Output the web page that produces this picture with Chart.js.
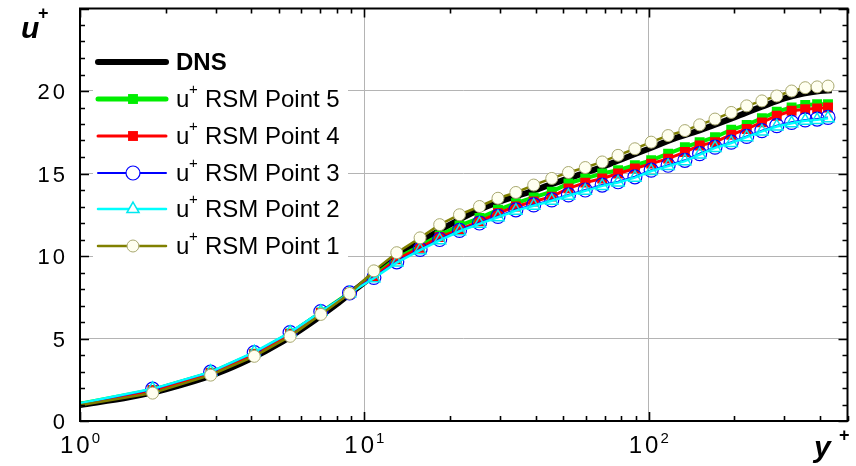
<!DOCTYPE html>
<html>
<head>
<meta charset="utf-8">
<script src="https://cdn.jsdelivr.net/npm/chart.js@4.4.0/dist/chart.umd.min.js"></script>
<style>
  html, body { margin: 0; padding: 0; background: #fff; }
  canvas { display: block; }
</style>
</head>
<body>
<canvas id="c" width="856" height="466"></canvas>
<script>
// ── data ───────────────────────────────────────────────
// RSM grid nodes (first node at y+=1 only starts the line, no marker)
const rsmYPlus = [1.0, 1.80, 2.88, 4.10, 5.48, 7.03, 8.87, 10.8, 13.0, 15.7, 18.4, 21.6, 25.4, 29.5, 34.1,
  39.4, 45.6, 52.2, 59.8, 68.6, 78.0, 89.4, 102, 117, 134, 151, 171, 195, 221, 250, 282, 318, 355, 391, 427];
const uPoint1 = [0.95, 1.69, 2.78, 3.92, 5.13, 6.46, 7.73, 9.1, 10.2, 11.1, 11.9, 12.5, 13.0, 13.5, 13.85,
  14.3, 14.7, 15.06, 15.36, 15.7, 16.1, 16.5, 16.9, 17.3, 17.6, 17.95, 18.3, 18.7, 19.1, 19.4, 19.7, 20.0, 20.2, 20.25, 20.3];
const uPoint2 = [1.08, 1.95, 2.98, 4.17, 5.37, 6.62, 7.74, 8.65, 9.6, 10.35, 10.95, 11.5, 11.95, 12.35, 12.75,
  13.05, 13.35, 13.65, 13.95, 14.25, 14.45, 14.75, 15.15, 15.45, 15.75, 16.15, 16.55, 16.85, 17.2, 17.55, 17.85, 18.05, 18.2, 18.25, 18.35];
const uPoint3 = [1.05, 1.93, 2.96, 4.15, 5.36, 6.63, 7.77, 8.7, 9.65, 10.4, 11.0, 11.55, 12.0, 12.4, 12.8,
  13.1, 13.4, 13.7, 14.0, 14.3, 14.5, 14.8, 15.2, 15.5, 15.8, 16.2, 16.6, 16.9, 17.25, 17.6, 17.9, 18.1, 18.25, 18.3, 18.4];
const uPoint4 = [1.02, 1.86, 2.9, 4.05, 5.27, 6.55, 7.74, 8.75, 9.8, 10.5, 11.15, 11.6, 12.1, 12.6, 13.0,
  13.3, 13.6, 14.1, 14.45, 14.7, 15.0, 15.3, 15.6, 15.9, 16.3, 16.7, 16.9, 17.35, 17.7, 18.1, 18.5, 18.8, 18.9, 18.95, 19.0];
const uPoint5 = [1.04, 1.88, 2.92, 4.08, 5.3, 6.58, 7.76, 8.8, 9.85, 10.6, 11.25, 11.85, 12.3, 12.8, 13.2,
  13.55, 13.9, 14.4, 14.7, 15.0, 15.2, 15.5, 15.8, 16.2, 16.6, 16.9, 17.2, 17.65, 17.95, 18.35, 18.75, 19.0, 19.15, 19.2, 19.2];

const dnsYPlus = [1, 1.5, 2, 3, 4, 5, 6, 7, 8, 9, 10, 12, 14, 17, 20, 25, 30, 40, 50, 60,
  70, 80, 100, 120, 150, 200, 250, 300, 350, 400, 440];
const dnsU = [0.97, 1.45, 1.92, 2.85, 3.78, 4.68, 5.55, 6.35, 7.08, 7.78, 8.4, 9.45, 10.3, 11.2, 11.9, 12.75, 13.3, 14.0, 14.6, 15.05,
  15.45, 15.85, 16.5, 17.05, 17.6, 18.4, 19.05, 19.55, 19.85, 20.0, 20.05];

const xTickValues = [1, 10, 100];
const xTickExps   = ['0', '1', '2'];
const yTickValues = [0, 5, 10, 15, 20];

const FONT = '"Liberation Sans", Arial, sans-serif';

function pts(xs, ys) { return xs.map((x, i) => ({ x, y: ys[i] })); }
const skipFirst = r => ctx => ctx.dataIndex === 0 ? 0 : r;

// index 0 is drawn on top, so Point 1 first, DNS last
const series = [
  { label: 'Point 1', u: uPoint1, color: '#808000', width: 2.5, style: 'circle', r: 6,   fill: '#fffff0', stroke: '#a8a870', bw: 1 },
  { label: 'Point 2', u: uPoint2, color: '#00ffff', width: 2.5, style: 'triangle', r: 7, fill: 'rgba(0,0,0,0)', stroke: '#00e8f0', bw: 1.5 },
  { label: 'Point 3', u: uPoint3, color: '#0000ff', width: 2,   style: 'circle', r: 7,   fill: 'rgba(0,0,0,0)', stroke: '#0000ff', bw: 1.2 },
  { label: 'Point 4', u: uPoint4, color: '#ff0000', width: 3,   style: 'rect', r: 7,     fill: '#ff0000', stroke: '#ff0000', bw: 0 },
  { label: 'Point 5', u: uPoint5, color: '#00ee00', width: 4,   style: 'rect', r: 7,     fill: '#00ee00', stroke: '#00ee00', bw: 0 },
];

const datasets = series.map(s => ({
  label: 'u+ RSM ' + s.label,
  data: pts(rsmYPlus, s.u),
  showLine: true,
  borderColor: s.color,
  borderWidth: s.width,
  pointStyle: s.style,
  pointRadius: skipFirst(s.r),
  pointBackgroundColor: s.fill,
  pointBorderColor: s.stroke,
  pointBorderWidth: s.bw,
}));
datasets.push({
  label: 'DNS',
  data: pts(dnsYPlus, dnsU),
  showLine: true,
  borderColor: '#000',
  borderWidth: 6,
  pointRadius: 0,
  cubicInterpolationMode: 'monotone',
});

// text with extra spacing between glyphs (the plot uses wide digits)
function spacedWidth(ctx, txt, sp) {
  let w = 0;
  for (const ch of txt) w += ctx.measureText(ch).width + sp;
  return w - sp;
}
function drawSpaced(ctx, txt, x, y, sp) {
  for (const ch of txt) { ctx.fillText(ch, x, y); x += ctx.measureText(ch).width + sp; }
}

const framePlugin = {
  id: 'frame',
  afterDraw(chart) {
    const { ctx, chartArea: a, scales: { x, y } } = chart;
    ctx.save();

    // legend panel
    ctx.fillStyle = '#fff';
    ctx.fillRect(93, 44, 255, 220);
    const legendRows = [
      { label: 'DNS', bold: true, color: '#000', width: 6 },
      { s: series[4] }, { s: series[3] }, { s: series[2] }, { s: series[1] }, { s: series[0] },
    ];
    const rowY = [62, 99, 136, 173, 209, 246];
    legendRows.forEach((row, i) => {
      const ry = rowY[i];
      const s = row.s;
      ctx.lineCap = 'round';
      ctx.strokeStyle = s ? s.color : row.color;
      ctx.lineWidth = s ? (s.width === 4 ? 5 : s.width) : row.width;
      ctx.beginPath(); ctx.moveTo(98, ry); ctx.lineTo(166, ry); ctx.stroke();
      if (s) {
        ctx.fillStyle = s.fill.startsWith('rgba') ? '#fff' : s.fill;
        ctx.strokeStyle = s.stroke;
        ctx.lineWidth = s.bw;
        Chart.helpers.drawPoint(ctx, { pointStyle: s.style, radius: s.r, rotation: 0, borderWidth: s.bw }, 133, ry);
      }
      ctx.fillStyle = '#000';
      ctx.textBaseline = 'alphabetic';
      ctx.textAlign = 'left';
      if (row.bold) {
        ctx.font = `bold 24px ${FONT}`;
        ctx.fillText(row.label, 176, ry + 8);
      } else {
        ctx.font = `24px ${FONT}`;
        ctx.fillText('u', 176, ry + 8);
        ctx.font = `15px ${FONT}`;
        ctx.fillText('+', 189, ry - 5);
        ctx.font = `24px ${FONT}`;
        ctx.fillText('RSM ' + s.label, 205, ry + 8);
      }
    });

    // frame
    ctx.strokeStyle = '#000';
    ctx.lineWidth = 2;
    ctx.lineCap = 'butt';
    ctx.strokeRect(a.left, a.top, a.right - a.left, a.bottom - a.top);

    // inward ticks
    ctx.lineWidth = 1.6;
    ctx.beginPath();
    for (let v = 0; v <= 25; v++) {
      const py = Math.round(y.getPixelForValue(v)) + 0.5;
      const len = v % 5 === 0 ? 9 : 5;
      ctx.moveTo(a.left, py); ctx.lineTo(a.left + len, py);
      ctx.moveTo(a.right, py); ctx.lineTo(a.right - len, py);
    }
    for (let k = 0; k < 3; k++) {
      for (let m = 1; m <= 9; m++) {
        const v = m * Math.pow(10, k);
        if (v > 500) break;
        const px = Math.round(x.getPixelForValue(v)) + 0.5;
        const len = m === 1 ? 9 : 5;
        ctx.moveTo(px, a.bottom); ctx.lineTo(px, a.bottom - len);
        ctx.moveTo(px, a.top); ctx.lineTo(px, a.top + len);
      }
    }
    ctx.stroke();

    // y tick labels
    ctx.fillStyle = '#000';
    ctx.textAlign = 'left';
    ctx.textBaseline = 'alphabetic';
    ctx.font = `22px ${FONT}`;
    yTickValues.forEach(v => {
      const txt = String(v);
      const w = spacedWidth(ctx, txt, 3);
      drawSpaced(ctx, txt, 65 - w, y.getPixelForValue(v) + 8, 3);
    });

    // x tick labels 10^n
    xTickValues.forEach((v, i) => {
      ctx.font = `24px ${FONT}`;
      const wb = spacedWidth(ctx, '10', 3);
      ctx.font = `15px ${FONT}`;
      const we = ctx.measureText(xTickExps[i]).width;
      const x0 = x.getPixelForValue(v) - (wb + 2 + we) / 2;
      ctx.font = `24px ${FONT}`;
      drawSpaced(ctx, '10', x0, 453, 3);
      ctx.font = `15px ${FONT}`;
      ctx.fillText(xTickExps[i], x0 + wb + 2, 443);
    });

    // axis titles
    ctx.font = `italic bold 30px ${FONT}`;
    ctx.fillText('u', 21, 38);
    ctx.fillText('y', 814, 457);
    ctx.font = `bold 18px ${FONT}`;
    ctx.fillText('+', 38, 19);
    ctx.fillText('+', 839, 441);

    ctx.restore();
  }
};

new Chart(document.getElementById('c'), {
  type: 'scatter',
  data: { datasets },
  options: {
    responsive: false,
    animation: false,
    devicePixelRatio: 1,
    layout: { padding: { top: 7, right: 1, left: 0, bottom: 0 } },
    plugins: { legend: { display: false }, tooltip: { enabled: false } },
    scales: {
      x: {
        type: 'logarithmic', min: 1, max: 500,
        afterBuildTicks: s => { s.ticks = xTickValues.map(v => ({ value: v })); },
        afterFit: s => { s.height = 45; },
        ticks: { display: false },
        grid: { color: '#b4b4b4', lineWidth: 1, drawTicks: false },
        border: { display: false },
      },
      y: {
        type: 'linear', min: 0, max: 25,
        afterFit: s => { s.width = 80; },
        ticks: { display: false, stepSize: 5 },
        grid: { color: '#b4b4b4', lineWidth: 1, drawTicks: false },
        border: { display: false },
      },
    },
  },
  plugins: [framePlugin],
});
</script>
</body>
</html>
